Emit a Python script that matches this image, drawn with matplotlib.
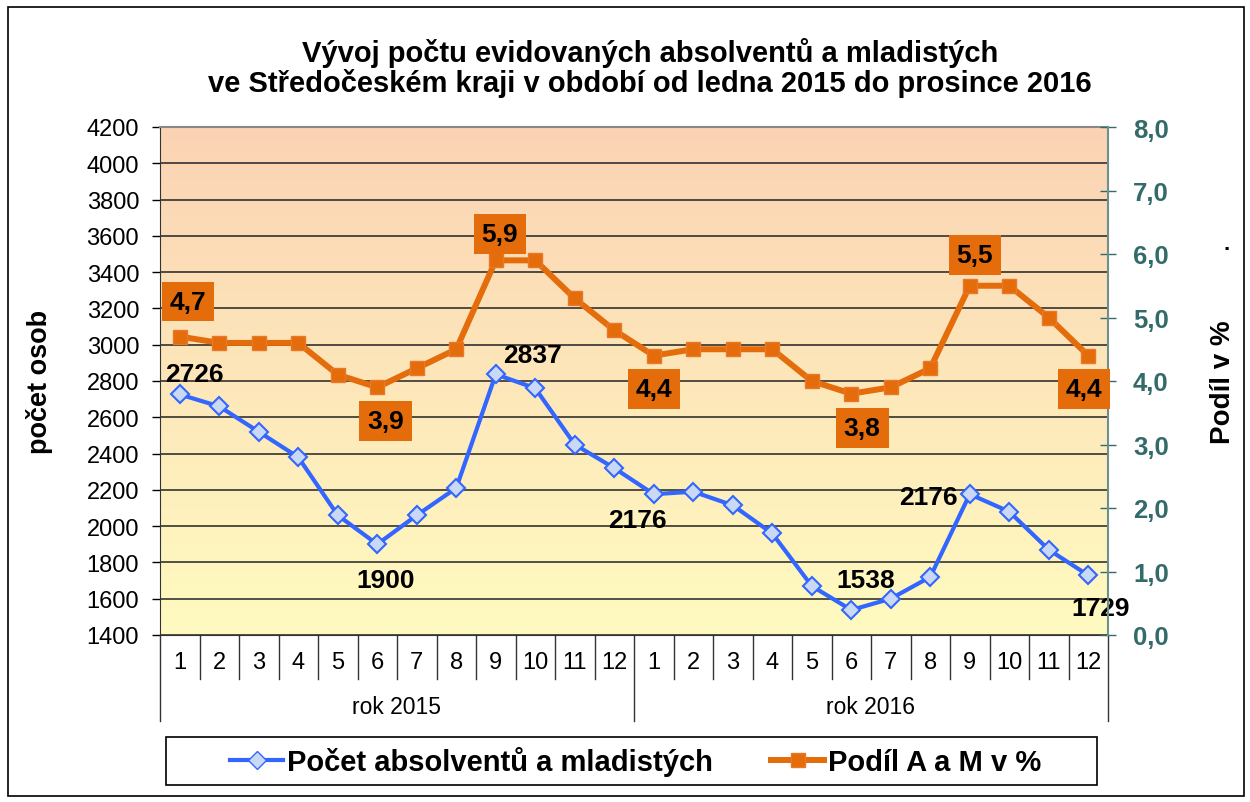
import numpy as np
import matplotlib
matplotlib.use("Agg")
import matplotlib.pyplot as plt
from matplotlib.lines import Line2D
from matplotlib.patches import Rectangle
from matplotlib.transforms import blended_transform_factory

plt.rcParams["font.family"] = ["Liberation Sans", "DejaVu Sans"]

months = [str(m) for m in range(1, 13)] * 2
years = ["rok 2015", "rok 2016"]
pocet = [2726, 2660, 2520, 2380, 2060, 1900, 2060, 2210, 2837, 2760, 2450, 2320,
         2176, 2190, 2115, 1960, 1670, 1538, 1600, 1720, 2176, 2080, 1870, 1729]
podil = [4.7, 4.6, 4.6, 4.6, 4.1, 3.9, 4.2, 4.5, 5.9, 5.9, 5.3, 4.8,
         4.4, 4.5, 4.5, 4.5, 4.0, 3.8, 3.9, 4.2, 5.5, 5.5, 5.0, 4.4]

# which points carry a label and where it sits (offset in pixels)
pocet_labels = {0: (15, 20), 5: (8, -36), 8: (37, 19), 12: (-16, -26),
                17: (14, 30), 20: (-41, -3), 23: (12, -33)}
podil_labels = {0: (8, 35), 5: (8, -34), 8: (4, 26), 12: (0, -33),
                17: (11, -34), 20: (5, 31), 23: (-4, -33)}

W, H = 1250, 803
fig = plt.figure(figsize=(W / 100, H / 100), dpi=100)
fig.patch.set_facecolor("white")

L, R, T, B = 160, 1108, 128, 636
ax = fig.add_axes([L / W, 1 - B / H, (R - L) / W, (B - T) / H])
x = np.arange(len(pocet))
ax.set_xlim(-0.5, len(pocet) - 0.5)

# gradient plot area: peach at the top, pale yellow at the bottom
top_c = np.array([251, 211, 180]) / 255
bot_c = np.array([255, 251, 192]) / 255
t = np.linspace(0, 1, 256)[:, None]
grad = (top_c * (1 - t) + bot_c * t)[:, None, :]
ax.imshow(grad, aspect="auto", extent=(-0.5, len(pocet) - 0.5, 1400, 4200),
          origin="upper", zorder=0)
ax.set_ylim(1400, 4200)

ax.set_yticks(np.arange(1400, 4201, 200))
ax.grid(axis="y", color="#222222", lw=1.1, zorder=1)
ax.set_axisbelow(True)
ax.set_xticks([])
ax.tick_params(axis="y", direction="out", length=6, width=1, labelsize=17,
               colors="black", pad=9)
ax.spines["top"].set_color("#888888")
ax.spines["top"].set_linewidth(1.5)
ax.spines["left"].set_color("#333333")
ax.spines["bottom"].set_color("#333333")
ax.spines["right"].set_visible(False)
ax.set_ylabel("počet osob", fontsize=19.5, fontweight="bold", labelpad=24)

ax.plot(x, pocet, color="#3366FF", lw=3, marker="D", ms=9, mfc="#C9D8F5",
        mec="#3366FF", mew=1.5, zorder=4)
for i, (dx, dy) in pocet_labels.items():
    ax.annotate(f"{pocet[i]}", (x[i], pocet[i]), xytext=(dx, dy),
                textcoords="offset pixels", ha="center", va="center",
                fontsize=19, fontweight="bold", zorder=6)

ax2 = ax.twinx()
ax2.set_ylim(0, 8)
ax2.set_yticks(np.arange(0, 8.01, 1))
ax2.set_yticklabels([f"{v:.1f}".replace(".", ",") for v in np.arange(0, 8.01, 1)])
ax2.tick_params(axis="y", direction="inout", length=12, width=1,
                colors="#336A6A", labelsize=18.5, pad=12)
for lab in ax2.get_yticklabels():
    lab.set_fontweight("bold")
ax2.spines["right"].set_color("#6F8F8F")
ax2.spines["right"].set_linewidth(1.5)
for s in ["top", "left", "bottom"]:
    ax2.spines[s].set_visible(False)
ax2.set_ylabel("Podíl v %", fontsize=20, fontweight="bold", labelpad=30)

ax2.plot(x, podil, color="#E46C0A", lw=4.3, marker="s", ms=10, mfc="#E46C0A",
         mec="#E8782A", zorder=5)
for i, (dx, dy) in podil_labels.items():
    ax2.annotate(f"{podil[i]:.1f}".replace(".", ","), (x[i], podil[i]),
                 xytext=(dx, dy), textcoords="offset pixels", ha="center",
                 va="center", fontsize=19, fontweight="bold", zorder=7,
                 bbox=dict(boxstyle="square,pad=0.3", fc="#E46C0A", ec="none"))

fig.text(1227 / W, 1 - 245 / H, ".", fontsize=16, fontweight="bold",
         ha="center", va="center")

# two-level category axis under the plot
tr = blended_transform_factory(ax.transData, fig.transFigure)
fy = lambda py: 1 - py / H
for k in range(1, len(months)):
    if k % 12:
        ax.plot([k - 0.5, k - 0.5], [fy(B), fy(680)], color="#333333", lw=1,
                transform=tr, clip_on=False)
for k in [0, 12, 24]:
    ax.plot([k - 0.5, k - 0.5], [fy(B), fy(722)], color="#333333", lw=1,
            transform=tr, clip_on=False)
for k, m in enumerate(months):
    ax.text(k, fy(663), m, transform=tr, ha="center", va="center", fontsize=17)
for j, y in enumerate(years):
    ax.text(12 * j + 5.5, fy(708), y, transform=tr, ha="center", va="center",
            fontsize=16.5)

# title
fig.text(650 / W, 1 - 68 / H,
         "Vývoj počtu evidovaných absolventů a mladistých\n"
         "ve Středočeském kraji v období od ledna 2015 do prosince 2016",
         ha="center", va="center", fontsize=21, fontweight="bold",
         linespacing=1.05)

# legend with its own frame
fig.patches.append(Rectangle((166 / W, fy(786)), (1097 - 166) / W, 48 / H,
                             transform=fig.transFigure, fill=False,
                             ec="black", lw=1.2))
handles = [Line2D([], [], color="#3366FF", lw=3, marker="D", ms=9,
                  mfc="#C9D8F5", mec="#3366FF"),
           Line2D([], [], color="#E46C0A", lw=4.3, marker="s", ms=10,
                  mfc="#E46C0A", mec="#E8782A")]
fig.legend(handles, ["Počet absolventů a mladistých", "Podíl A a M v %"],
           loc="center", bbox_to_anchor=(636 / W, fy(762)), ncol=2,
           frameon=False, prop={"weight": "bold", "size": 21},
           handlelength=1.8, handletextpad=0.15, columnspacing=2.0)

# outer border of the chart
fig.patches.append(Rectangle((8 / W, fy(797)), (1244 - 8) / W, (797 - 8) / H,
                             transform=fig.transFigure, fill=False,
                             ec="black", lw=1.2))

fig.savefig("out.png", dpi=100)
